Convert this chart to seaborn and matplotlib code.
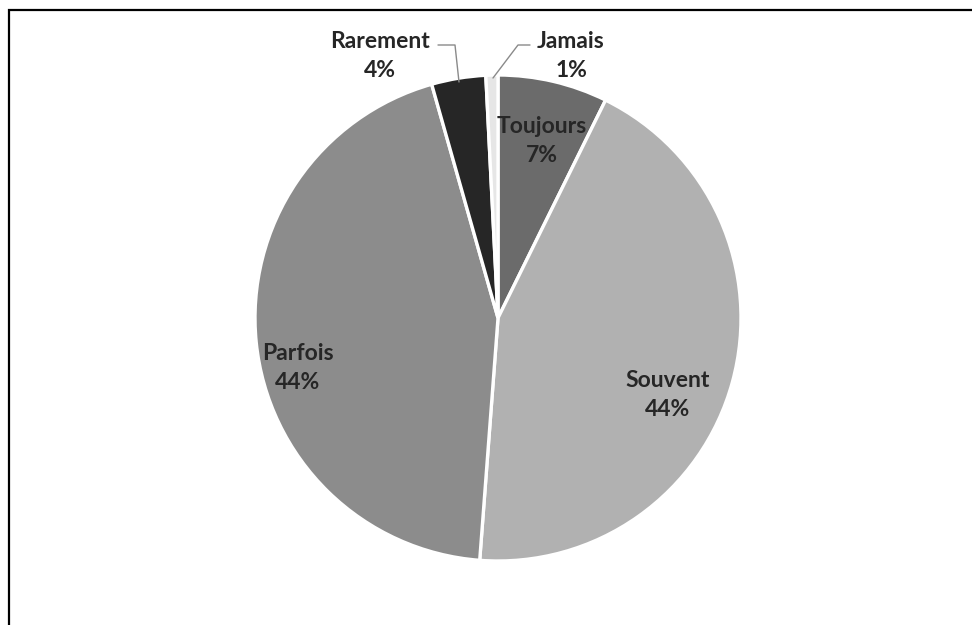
import numpy as np
import matplotlib
matplotlib.use("Agg")
import matplotlib.pyplot as plt
import seaborn as sns
from matplotlib.patches import Rectangle

# données
categories = ["Toujours", "Souvent", "Parfois", "Rarement", "Jamais"]
valeurs = [7.3, 43.9, 44.4, 3.6, 0.8]
etiquettes_pct = ["7%", "44%", "44%", "4%", "1%"]

couleurs = ["#6b6b6b", "#b1b1b1", "#8c8c8c", "#262626", "#e6e6e6"]

sns.set_theme(style="white")
plt.rcParams['font.family'] = ['Lato', 'DejaVu Sans']

W, H = 972, 625
fig = plt.figure(figsize=(W / 100, H / 100), dpi=100)
ax = fig.add_axes([0, 0, 1, 1])


def py(y):
    # pixel (haut -> bas) vers coordonnée de l'axe
    return H - y


# centre et rayon en pixels
cx, cy, r = 498, 318, 243
wedges, _ = ax.pie(valeurs, colors=couleurs, startangle=90, counterclock=False,
                   center=(cx, py(cy)), radius=r, frame=True,
                   wedgeprops=dict(edgecolor="white", linewidth=2.4))
ax.set_xlim(0, W)
ax.set_ylim(0, H)
ax.set_aspect('equal')
ax.axis('off')

# positions des étiquettes (pixels)
pos = {
    "Toujours": (542, 141),
    "Souvent": (668, 395),
    "Parfois": (298, 368),
    "Rarement": (380, 56),
    "Jamais": (571, 56),
}
for cat, pct in zip(categories, etiquettes_pct):
    x, y = pos[cat]
    ax.text(x, py(y), f"{cat}\n{pct}", ha="center", va="center", fontsize=16.5,
            fontweight="bold", color="#262626", linespacing=1.45)

# lignes de rappel
ax.plot([438, 455, 459], [py(45), py(45), py(82)], color="#8a8a8a", lw=1)
ax.plot([530, 518, 493], [py(45), py(45), py(78)], color="#8a8a8a", lw=1)

# cadre
ax.add_patch(Rectangle((9, -600), 1200, py(10) + 600, fill=False,
                       edgecolor="black", lw=1.6, clip_on=False))

fig.savefig("out.png", dpi=100)
